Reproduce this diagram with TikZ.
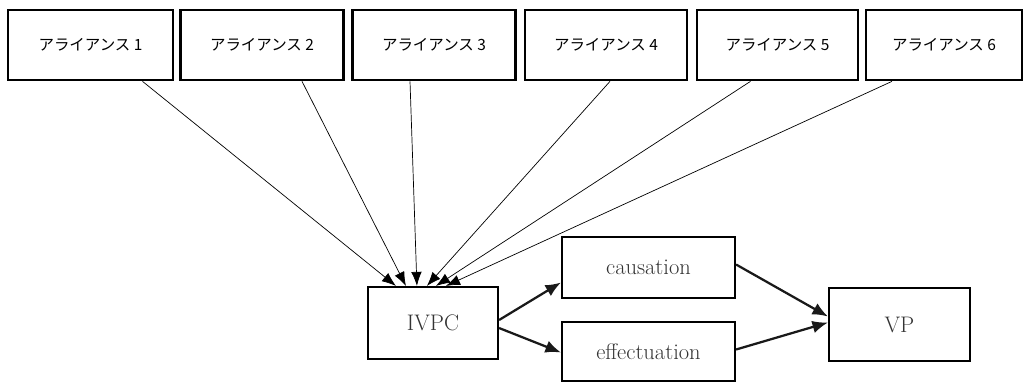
\documentclass[tikz,border=0pt]{standalone}
\usepackage{fontspec}
\newfontfamily\jpfont{Noto Sans CJK JP}
\usetikzlibrary{arrows.meta,calc}
\tikzset{
  alliance/.style={draw,line width=1.9pt,minimum width=4.05cm,minimum height=1.75cm,inner sep=0pt,font=\jpfont\fontsize{11}{13}\selectfont},
  stage/.style={draw,line width=1.5pt,inner sep=0pt,font=\fontsize{16}{18}\selectfont,text=black!80},
  thinarrow/.style={-{Latex[length=10pt,width=7.5pt]},line width=0.5pt},
  thickarrow/.style={-{Latex[length=11pt,width=9pt]},line width=1.6pt,black!90}
}
\begin{document}
\begin{tikzpicture}[x=0.025cm,y=-0.025cm]
\useasboundingbox (0,0) rectangle (1023,383);
% top row
\node[alliance,minimum width=4.125cm] (a1) at (90.5,45) {アライアンス 1};
\node[alliance,minimum width=4.075cm] (a2) at (262,45) {アライアンス 2};
\node[alliance,minimum width=4.075cm] (a3) at (434,45) {アライアンス 3};
\node[alliance] (a4) at (606,45) {アライアンス 4};
\node[alliance,minimum width=4.025cm] (a5) at (777.5,45) {アライアンス 5};
\node[alliance,minimum width=3.9cm] (a6) at (944,45) {アライアンス 6};
% lower row
\node[stage,minimum width=3.25cm,minimum height=1.8cm] (ivpc) at (433,323) {IVPC};
\node[stage,minimum width=4.325cm,minimum height=1.525cm] (caus) at (648.5,267.5) {causation};
\node[stage,minimum width=4.325cm,minimum height=1.475cm] (effe) at (648.5,351.5) {effectuation};
\node[stage,minimum width=3.525cm,minimum height=1.825cm] (vp) at (899.5,324.5) {VP};
% alliances to IVPC
\draw[thinarrow] ($(a1.south)+(52,0)$) -- ($(ivpc.north west)+(29,0)$);
\draw[thinarrow] ($(a2.south)+(40,0)$) -- ($(ivpc.north west)+(39,0)$);
\draw[thinarrow] ($(a3.south)+(-24,0)$) -- ($(ivpc.north west)+(50,0)$);
\draw[thinarrow] ($(a4.south)+(4,0)$) -- ($(ivpc.north west)+(60,0)$);
\draw[thinarrow] ($(a5.south)+(-27,0)$) -- ($(ivpc.north west)+(69,0)$);
\draw[thinarrow] ($(a6.south)+(-52,0)$) -- ($(ivpc.north west)+(79,0)$);
% IVPC to the two ways, and on to VP
\draw[thickarrow] ($(ivpc.east)+(0,-3)$) -- ($(caus.west)+(0,15)$);
\draw[thickarrow] ($(ivpc.east)+(0,5)$) -- ($(effe.west)+(0,1)$);
\draw[thickarrow] ($(caus.east)+(0,-3)$) -- ($(vp.west)+(0,-8)$);
\draw[thickarrow] ($(effe.east)+(0,-2)$) -- ($(vp.west)+(0,-2)$);
\end{tikzpicture}
\end{document}
